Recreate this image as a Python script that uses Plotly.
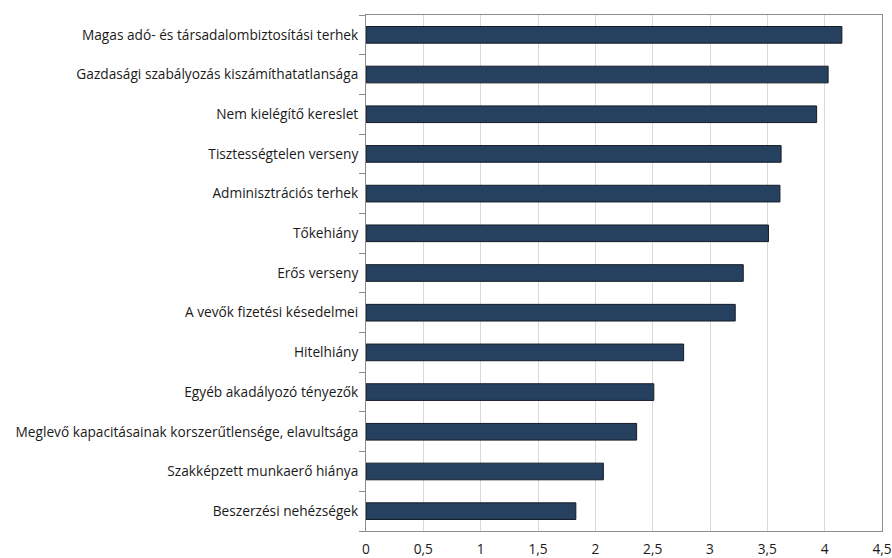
import plotly.graph_objects as go

# Akadályozó tényezők átlagos értékelése (felülről lefelé csökkenő sorrendben)
categories = [
    "Magas adó- és társadalombiztosítási terhek",
    "Gazdasági szabályozás kiszámíthatatlansága",
    "Nem kielégítő kereslet",
    "Tisztességtelen verseny",
    "Adminisztrációs terhek",
    "Tőkehiány",
    "Erős verseny",
    "A vevők fizetési késedelmei",
    "Hitelhiány",
    "Egyéb akadályozó tényezők",
    "Meglevő kapacitásainak korszerűtlensége, elavultsága",
    "Szakképzett munkaerő hiánya",
    "Beszerzési nehézségek",
]
values = [4.15, 4.03, 3.93, 3.62, 3.61, 3.51, 3.29, 3.22, 2.77, 2.51, 2.36, 2.07, 1.83]
x_ticks = [0, 0.5, 1, 1.5, 2, 2.5, 3, 3.5, 4, 4.5]

font_family = "Open Sans, Liberation Sans, sans-serif"

fig = go.Figure(
    go.Bar(
        x=values,
        y=categories,
        orientation="h",
        marker=dict(color="#26405f", line=dict(color="#151c26", width=1)),
        width=0.42,
    )
)

fig.update_layout(
    width=892,
    height=558,
    margin=dict(l=366, r=10, t=15, b=27, autoexpand=False),
    paper_bgcolor="white",
    plot_bgcolor="white",
    showlegend=False,
    separators=", ",
    font=dict(family=font_family, size=13.7, color="#1a1a1a"),
)

fig.update_xaxes(
    range=[0, 4.5],
    tickvals=x_ticks,
    tickformat=".1~f",
    automargin=False,
    showgrid=True,
    gridcolor="#d9d9d9",
    gridwidth=1,
    zeroline=False,
    showline=True,
    linecolor="#8c8c8c",
    linewidth=1,
    mirror=True,
    ticks="",
    ticklabelstandoff=6,
    tickfont=dict(size=13.7, color="#1a1a1a"),
)

fig.update_yaxes(
    categoryorder="array",
    categoryarray=categories[::-1],
    autorange=False,
    range=[-0.5, len(categories) - 0.5],
    automargin=False,
    showgrid=False,
    showline=True,
    linecolor="#8c8c8c",
    linewidth=1,
    mirror=True,
    ticks="outside",
    tickson="boundaries",
    ticklen=6,
    tickcolor="#8c8c8c",
    ticklabelstandoff=4,
    tickfont=dict(size=13.7, color="#1a1a1a"),
)

fig.write_html("out.html")
